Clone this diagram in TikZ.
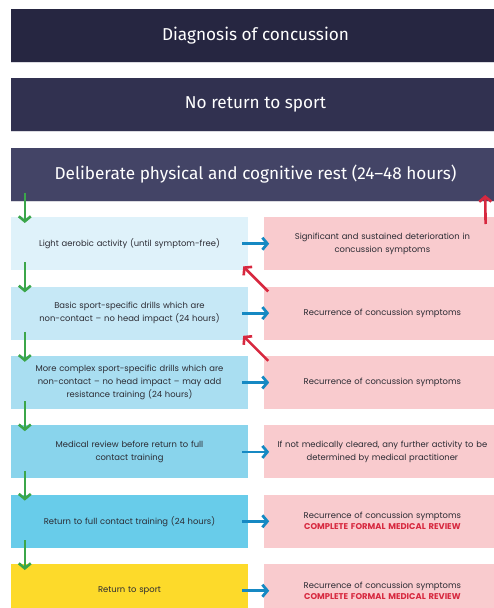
\documentclass[tikz,border=0pt]{standalone}
\usepackage{fontspec}
\setmainfont{Poppins}
\newfontfamily\barfont{Fira Sans}
\usepackage{xcolor}
\usetikzlibrary{positioning,arrows.meta}

\definecolor{barone}{HTML}{262641}
\definecolor{bartwo}{HTML}{313150}
\definecolor{barthree}{HTML}{434466}
\definecolor{stepone}{HTML}{DFF2FA}
\definecolor{steptwo}{HTML}{C6E8F6}
\definecolor{stepthree}{HTML}{A9DEF1}
\definecolor{stepfour}{HTML}{89D4EC}
\definecolor{stepfive}{HTML}{68CCEA}
\definecolor{stepsix}{HTML}{FDDA2A}
\definecolor{warnpink}{HTML}{F9CBCE}
\definecolor{flowgreen}{HTML}{3BA64A}
\definecolor{flowblue}{HTML}{1689C3}
\definecolor{flowred}{HTML}{D7283F}
\definecolor{textdark}{HTML}{2B2B33}

\newcommand{\reviewtext}[1]{\textcolor{flowred}{\bfseries #1}}

\begin{document}
\begin{tikzpicture}
    [x=1pt,y=-1pt,
    node distance=16pt,
    bar/.style={minimum width=489pt,minimum height=53pt,inner sep=0pt,
        text=white,font=\barfont\fontsize{17.2}{20}\selectfont},
    stepbox/.style={minimum width=237pt,minimum height=53pt,inner sep=0pt,
        text width=232pt,align=center,text=textdark,font=\fontsize{8.4}{13}\selectfont},
    warnbox/.style={fill=warnpink,minimum width=236pt,minimum height=53pt,inner sep=0pt,
        text width=232pt,align=center,text=textdark,font=\fontsize{8.4}{13}\selectfont},
    down/.style={-{Straight Barb[length=5pt,width=12pt]},flowgreen,line width=2.6pt},
    across/.style={-{Straight Barb[length=5pt,width=12pt]},flowblue,line width=2.8pt},
    back/.style={-{Straight Barb[length=5pt,width=12pt]},flowred,line width=2.6pt}]

\useasboundingbox (0,0) rectangle (493,608);

%top bars
\node[bar,fill=barone] (diagnosis) at (255.5,35.5) {Diagnosis of concussion};
\node[bar,fill=bartwo,below=of diagnosis] (noreturn) {No return to sport};
\node[bar,fill=barthree,below=of noreturn] (rest) {Deliberate physical and cognitive rest (24–48 hours)};

%thin line under the bars
\foreach \b in {diagnosis,noreturn,rest}
    \draw[white!80!barthree,line width=0.8pt] (\b.south west) -- (\b.south east);

%steps on the left
\node[stepbox,fill=stepone,below=of rest.south west,anchor=north west] (aerobic)
    {Light aerobic activity (until symptom-free)};
\node[stepbox,fill=steptwo,below=of aerobic] (basic)
    {Basic sport-specific drills which are\\non-contact -- no head impact (24 hours)};
\node[stepbox,fill=stepthree,below=of basic] (complex)
    {More complex sport-specific drills which are\\non-contact -- no head impact -- may add\\resistance training (24 hours)};
\node[stepbox,fill=stepfour,below=of complex] (medical)
    {Medical review before return to full\\contact training};
\node[stepbox,fill=stepfive,below=of medical] (contact)
    {Return to full contact training (24 hours)};
\node[stepbox,fill=stepsix,below=of contact] (sport)
    {Return to sport};

%what can go wrong, on the right
\node[warnbox,right=of aerobic] (worse)
    {Significant and sustained deterioration in\\concussion symptoms};
\node[warnbox,right=of basic] (recurbasic) {Recurrence of concussion symptoms};
\node[warnbox,right=of complex] (recurcomplex) {Recurrence of concussion symptoms};
\node[warnbox,right=of medical] (notcleared)
    {If not medically cleared, any further activity to be\\determined by medical practitioner};
\node[warnbox,right=of contact] (recurcontact)
    {Recurrence of concussion symptoms\\[-2pt]\reviewtext{COMPLETE FORMAL MEDICAL REVIEW}};
\node[warnbox,right=of sport] (recursport)
    {Recurrence of concussion symptoms\\[-2pt]\reviewtext{COMPLETE FORMAL MEDICAL REVIEW}};

%green arrows down the steps
\draw[down] ([xshift=14pt,yshift=8pt]rest.south west) -- ([xshift=14pt,yshift=-6pt]aerobic.north west);
\draw[down] ([xshift=14pt,yshift=8pt]aerobic.south west) -- ([xshift=14pt,yshift=-6pt]basic.north west);
\draw[down] ([xshift=14pt,yshift=8pt]basic.south west) -- ([xshift=14pt,yshift=-6pt]complex.north west);
\draw[down] ([xshift=14pt,yshift=8pt]complex.south west) -- ([xshift=14pt,yshift=-6pt]medical.north west);
\draw[down] ([xshift=14pt,yshift=8pt]medical.south west) -- ([xshift=14pt,yshift=-6pt]contact.north west);
\draw[down] ([xshift=14pt,yshift=8pt]contact.south west) -- ([xshift=14pt,yshift=-6pt]sport.north west);

%blue arrows across
\draw[across] ([xshift=-6pt]aerobic.east) -- ([xshift=5pt]worse.west);
\draw[across] ([xshift=-6pt]basic.east) -- ([xshift=5pt]recurbasic.west);
\draw[across] ([xshift=-6pt]complex.east) -- ([xshift=5pt]recurcomplex.west);
\draw[across] ([xshift=-6pt]medical.east) -- ([xshift=5pt]notcleared.west);
\draw[across] ([xshift=-6pt]contact.east) -- ([xshift=5pt]recurcontact.west);
\draw[across] ([xshift=-6pt]sport.east) -- ([xshift=5pt]recursport.west);

%red arrows back
\draw[back] ([xshift=-15pt,yshift=-7pt]worse.north east) -- ([xshift=-15pt,yshift=6pt]rest.south east);
\draw[back] ([xshift=4pt,yshift=-5pt]recurbasic.north west) -- ([xshift=-5pt,yshift=4pt]aerobic.south east);
\draw[back] ([xshift=4pt,yshift=-5pt]recurcomplex.north west) -- ([xshift=-5pt,yshift=4pt]basic.south east);

\end{tikzpicture}
\end{document}
